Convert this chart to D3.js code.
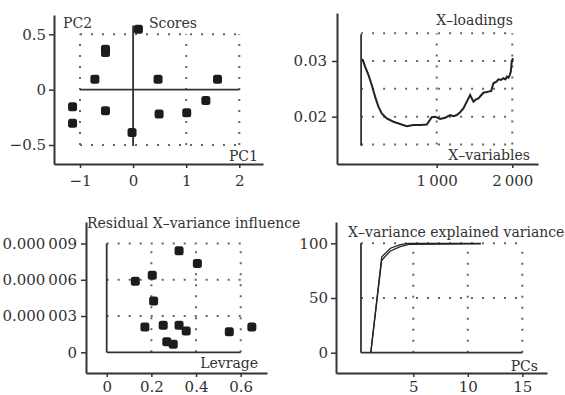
<!DOCTYPE html>
<html>
<head>
<meta charset="utf-8">
<script src="https://cdn.jsdelivr.net/npm/d3@7"></script>
<style>
body { margin: 0; background: #fff; }
svg { display: block; }
.grid { stroke: #666; stroke-width: 2; stroke-dasharray: 2 9; }
.ref { stroke: #333; stroke-width: 1.8; }
.lbl { font-family: "DejaVu Serif", serif; font-size: 14px; fill: #333; }
</style>
</head>
<body>
<script>
// Scores (PC1 / PC2)
var scorePC1 = [0.10, -0.52, -0.52, -0.72, -1.14, -1.14, -0.52, -0.02, 0.47, 0.49, 1.01, 1.37, 1.59];
var scorePC2 = [0.545, 0.365, 0.335, 0.093, -0.154, -0.304, -0.19, -0.386, 0.093, -0.22, -0.208, -0.099, 0.093];

// X-loadings along the variables
var loadVar = [10, 22, 53, 97, 141, 185, 229, 273, 340, 427, 516, 604, 692, 781, 869, 935, 979, 1045, 1110, 1177,
  1222, 1266, 1310, 1353, 1398, 1442, 1486, 1520, 1552, 1585, 1618, 1684, 1720, 1750, 1790, 1816, 1850, 1883,
  1910, 1930, 1949, 1965, 1981, 1994, 2000, 2007];
var loadVal = [0.0303, 0.0302, 0.0290, 0.0275, 0.0257, 0.0236, 0.0218, 0.0206, 0.0197, 0.0191, 0.0187, 0.0183,
  0.0185, 0.0185, 0.0186, 0.0199, 0.0200, 0.0196, 0.0198, 0.0203, 0.0201, 0.0203, 0.0208, 0.0215, 0.0227, 0.0239,
  0.0227, 0.0231, 0.0233, 0.0238, 0.0243, 0.0245, 0.0246, 0.0260, 0.0263, 0.0267, 0.0266, 0.0269, 0.0267, 0.0272,
  0.0270, 0.0274, 0.0281, 0.0302, 0.0298, 0.0305];

// Influence plot
var leverage = [0.324, 0.406, 0.128, 0.204, 0.210, 0.171, 0.253, 0.324, 0.356, 0.269, 0.298, 0.549, 0.650];
var residVar = [8.40e-6, 7.35e-6, 5.88e-6, 6.37e-6, 4.24e-6, 2.10e-6, 2.24e-6, 2.24e-6, 1.77e-6, 0.87e-6, 0.66e-6, 1.69e-6, 2.10e-6];

// Explained variance (two curves)
var pcs = [1.1, 2.1, 2.9, 3.8, 4.6, 11.2];
var explCal = [0, 84.5, 93, 97, 99, 99.6];
var explVal = [0, 87.5, 95.5, 98.8, 99.9, 100];

// tick values and labels
var p1XTicks = [-1, 0, 1, 2], p1XLabels = ["\u22121", "0", "1", "2"];
var p1YTicks = [-0.5, 0, 0.5], p1YLabels = ["\u22120.5", "0", "0.5"];
var p2XTicks = [1000, 2000], p2XLabels = ["1\u2009000", "2\u2009000"];
var p2YTicks = [0.02, 0.03], p2YLabels = ["0.02", "0.03"];
var p3XTicks = [0, 0.2, 0.4, 0.6], p3XLabels = ["0", "0.2", "0.4", "0.6"];
var p3YTicks = [0, 3e-6, 6e-6, 9e-6], p3YLabels = ["0", "0.000\u2009003", "0.000\u2009006", "0.000\u2009009"];
var p4XTicks = [5, 10, 15], p4XLabels = ["5", "10", "15"];
var p4YTicks = [0, 50, 100], p4YLabels = ["0", "50", "100"];

var svg = d3.select("body").append("svg")
    .attr("width", 565)
    .attr("height", 395);

// linear scale known from two tick positions, then stretched to the axis line ends
function makeScale(v1, p1, v2, p2, a, b) {
    var s = d3.scaleLinear().domain([v1, v2]).range([p1, p2]);
    return d3.scaleLinear().domain([s.invert(a), s.invert(b)]).range([a, b]);
}

function drawPanel(p) {
    var x = makeScale(p.xRef[0], p.xRef[1], p.xRef[2], p.xRef[3], p.xEnds[0], p.xEnds[1]);
    var y = makeScale(p.yRef[0], p.yRef[1], p.yRef[2], p.yRef[3], p.yEnds[0], p.yEnds[1]);
    var g = svg.append("g");

    // dotted grid
    p.rows.forEach(v => g.append("line").attr("class", "grid")
        .attr("x1", x(p.rowSpan[0])).attr("x2", x(p.rowSpan[1]))
        .attr("y1", y(v)).attr("y2", y(v)));
    p.cols.forEach(v => g.append("line").attr("class", "grid")
        .attr("x1", x(v)).attr("x2", x(v))
        .attr("y1", y(p.colSpan[0])).attr("y2", y(p.colSpan[1])));

    var xAxis = d3.axisBottom(x).tickValues(p.xTicks).tickFormat((d, i) => p.xLabels[i])
        .tickSize(4).tickSizeOuter(0).tickPadding(p.xPad);
    var yAxis = d3.axisLeft(y).tickValues(p.yTicks).tickFormat((d, i) => p.yLabels[i])
        .tickSize(5).tickSizeOuter(0).tickPadding(p.yPad);

    [g.append("g").attr("transform", `translate(0,${p.yEnds[0]})`).call(xAxis),
     g.append("g").attr("transform", `translate(${p.xEnds[0]},0)`).call(yAxis)]
        .forEach(a => {
            a.attr("font-family", "DejaVu Serif").attr("font-size", 15);
            a.select(".domain").attr("stroke", "#333").attr("stroke-width", 2);
            a.selectAll(".tick line").attr("stroke", "#333").attr("stroke-width", 1.5);
            a.selectAll(".tick text").attr("fill", "#333");
        });

    return { g: g, x: x, y: y };
}

function label(txt, px, py, anchor) {
    svg.append("text").attr("class", "lbl")
        .attr("x", px).attr("y", py)
        .attr("text-anchor", anchor || "start")
        .text(txt);
}

// ---- Scores ----
var p1 = drawPanel({
    xRef: [-1, 80, 2, 239.3], xEnds: [54, 263],
    yRef: [-0.5, 145, 0.5, 34.3], yEnds: [164, 15],
    xTicks: p1XTicks, xLabels: p1XLabels, yTicks: p1YTicks, yLabels: p1YLabels,
    xPad: 7, yPad: 3,
    rows: [0.5, -0.5], rowSpan: [-1, 2],
    cols: [-1, 1, 2], colSpan: [-0.5, 0.5]
});
p1.g.append("line").attr("class", "ref")
    .attr("x1", p1.x(-1)).attr("x2", p1.x(2)).attr("y1", p1.y(0)).attr("y2", p1.y(0));
p1.g.append("line").attr("class", "ref")
    .attr("x1", p1.x(0)).attr("x2", p1.x(0)).attr("y1", p1.y(-0.51)).attr("y2", p1.y(0.58));
p1.g.selectAll(".pt").data(scorePC1).enter().append("rect")
    .attr("x", (d, i) => p1.x(d) - 4.5)
    .attr("y", (d, i) => p1.y(scorePC2[i]) - 4.5)
    .attr("width", 9).attr("height", 9).attr("rx", 2.5)
    .attr("fill", "#1c1c1c");
label("PC2", 63, 28);
label("Scores", 149, 28);
label("PC1", 258, 161, "end");

// ---- X-loadings ----
var p2 = drawPanel({
    xRef: [1000, 436.7, 2000, 512.3], xEnds: [337, 538],
    yRef: [0.02, 116.7, 0.03, 61], yEnds: [164, 13],
    xTicks: p2XTicks, xLabels: p2XLabels, yTicks: p2YTicks, yLabels: p2YLabels,
    xPad: 7, yPad: 5,
    rows: [0.015, 0.02, 0.025, 0.03, 0.035], rowSpan: [0, 2000],
    cols: [1000, 2000], colSpan: [0.015, 0.035]
});
p2.g.append("line").attr("class", "ref")
    .attr("x1", p2.x(0)).attr("x2", p2.x(0)).attr("y1", p2.y(0.0148)).attr("y2", p2.y(0.0348));
p2.g.append("path")
    .datum(loadVar)
    .attr("fill", "none").attr("stroke", "#222").attr("stroke-width", 2)
    .attr("d", d3.line().x(d => p2.x(d)).y((d, i) => p2.y(loadVal[i])));
label("X\u2013loadings", 513, 25, "end");
label("X\u2013variables", 530, 160, "end");

// ---- Influence ----
var p3 = drawPanel({
    xRef: [0, 106.7, 0.6, 240.7], xEnds: [86, 267],
    yRef: [0, 352.3, 9e-6, 243.5], yEnds: [373, 222],
    xTicks: p3XTicks, xLabels: p3XLabels, yTicks: p3YTicks, yLabels: p3YLabels,
    xPad: 4, yPad: 4,
    rows: [3e-6, 6e-6, 9e-6], rowSpan: [0, 0.6],
    cols: [0.2, 0.4, 0.6], colSpan: [0, 9e-6]
});
p3.g.append("line").attr("class", "ref")
    .attr("x1", p3.x(0)).attr("x2", p3.x(0.6)).attr("y1", p3.y(0)).attr("y2", p3.y(0));
p3.g.append("line").attr("class", "ref")
    .attr("x1", p3.x(0)).attr("x2", p3.x(0)).attr("y1", p3.y(0)).attr("y2", p3.y(9e-6));
p3.g.selectAll(".pt").data(leverage).enter().append("rect")
    .attr("x", d => p3.x(d) - 4.5)
    .attr("y", (d, i) => p3.y(residVar[i]) - 4.5)
    .attr("width", 9).attr("height", 9).attr("rx", 2.5)
    .attr("fill", "#1c1c1c");
label("Residual X\u2013variance influence", 87, 228);
label("Levrage", 258, 368, "end");

// ---- Explained variance ----
var p4 = drawPanel({
    xRef: [5, 413.3, 15, 522.3], xEnds: [336, 547],
    yRef: [0, 352.7, 100, 243.3], yEnds: [373, 222],
    xTicks: p4XTicks, xLabels: p4XLabels, yTicks: p4YTicks, yLabels: p4YLabels,
    xPad: 4, yPad: 3,
    rows: [50, 100], rowSpan: [0.2, 15],
    cols: [5, 10, 15], colSpan: [0, 100]
});
p4.g.append("line").attr("class", "ref")
    .attr("x1", p4.x(0.2)).attr("x2", p4.x(15)).attr("y1", p4.y(0)).attr("y2", p4.y(0));
p4.g.append("line").attr("class", "ref")
    .attr("x1", p4.x(0.2)).attr("x2", p4.x(0.2)).attr("y1", p4.y(0)).attr("y2", p4.y(100));
[explCal, explVal].forEach(vals => {
    p4.g.append("path")
        .datum(pcs)
        .attr("fill", "none").attr("stroke", "#222").attr("stroke-width", 1.3)
        .attr("d", d3.line().x(d => p4.x(d)).y((d, i) => p4.y(vals[i])));
});
label("X\u2013variance explained variance", 348, 237);
label("PCs", 538, 371, "end");
</script>
</body>
</html>
